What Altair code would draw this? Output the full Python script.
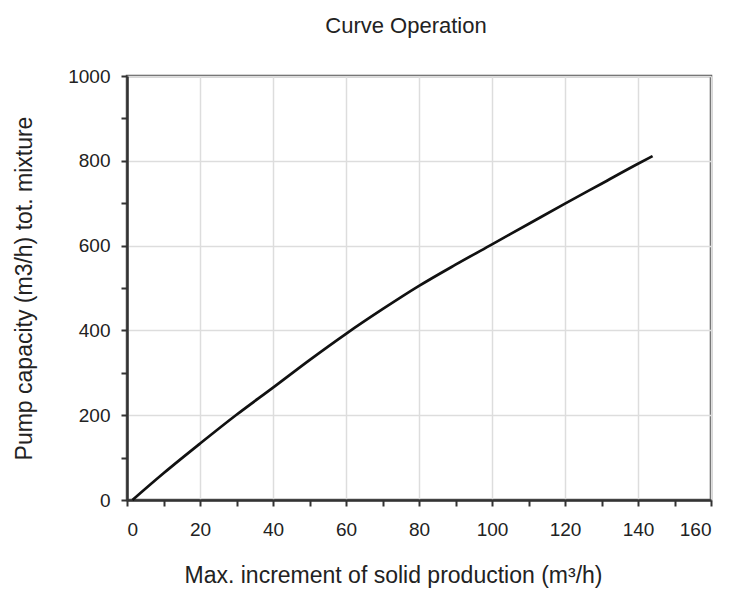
import altair as alt
import pandas as pd

x_vals = [1.5, 10, 20, 30, 40, 50, 60, 70, 80, 90, 100, 110, 120, 130, 140, 144]
y_vals = [0, 63, 133, 201, 265, 330, 392, 450, 505, 555, 603, 651, 699, 746, 793, 811]

df = pd.DataFrame({"x": x_vals, "y": y_vals})

FONT = "Liberation Sans"
TXT = "#222222"

x_ticks = list(range(0, 161, 10))
y_ticks = list(range(0, 1001, 100))

chart = alt.Chart(df).mark_line(color="#111111", strokeWidth=2.7, interpolate="monotone").encode(
    x=alt.X("x:Q",
            scale=alt.Scale(domain=[0, 160], nice=False),
            axis=alt.Axis(values=x_ticks, format="d",
                          labelExpr="datum.value % 20 === 0 ? datum.label : ''",
                          title="Max. increment of solid production (m³/h)",
                          gridOpacity={"condition": {"test": "datum.value % 20 === 0", "value": 1}, "value": 0},
                          labelPadding=14, titlePadding=25, titleX=266)),
    y=alt.Y("y:Q",
            scale=alt.Scale(domain=[0, 1000], nice=False),
            axis=alt.Axis(values=y_ticks, format="d",
                          labelExpr="datum.value % 200 === 0 ? datum.label : ''",
                          title="Pump capacity  (m3/h) tot. mixture",
                          gridOpacity={"condition": {"test": "datum.value % 200 === 0", "value": 1}, "value": 0},
                          labelPadding=11, titlePadding=31)),
).properties(
    width=584, height=424,
    title=alt.TitleParams("Curve Operation", font=FONT, fontSize=22, fontWeight="normal",
                          color=TXT, offset=29, dx=-13),
    autosize=alt.AutoSizeParams(type="none"),
    padding={"left": 119, "top": 68, "right": 13, "bottom": 89},
).configure_axis(
    labelFont=FONT, titleFont=FONT, labelFontSize=19, titleFontSize=23,
    labelColor=TXT, titleColor=TXT, titleFontWeight="normal",
    domainColor="#333333", domainWidth=2.5,
    tickColor="#333333", tickSize=6, tickWidth=2,
    gridColor="#dddddd", gridWidth=1.5,
).configure_view(
    stroke="#555555", strokeWidth=2.5,
)

chart.save("out.html", embed_options={"renderer": "svg", "actions": False})
